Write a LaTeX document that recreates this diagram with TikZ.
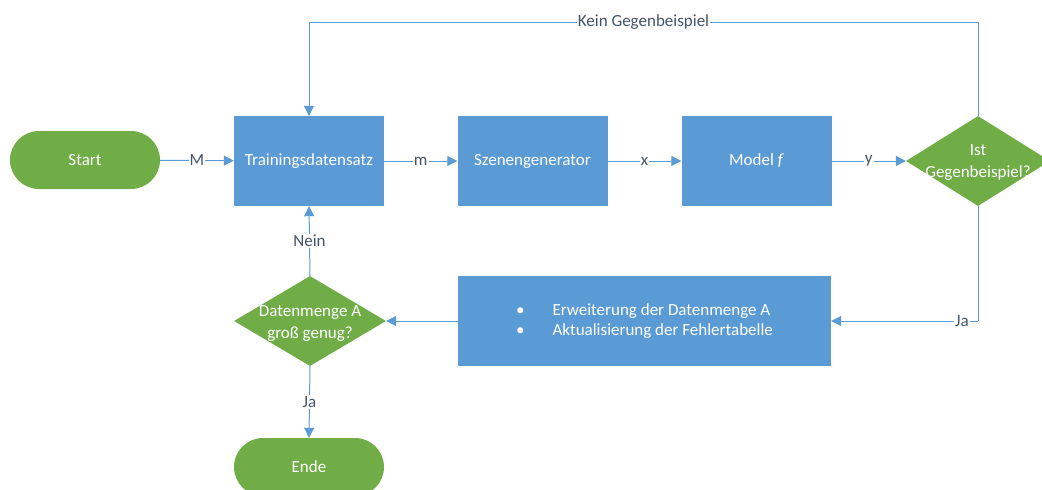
\documentclass[tikz,border=0pt]{standalone}
\usepackage{fontspec}
\setmainfont{Carlito}
\usetikzlibrary{shapes.geometric,arrows.meta}
\definecolor{boxblue}{HTML}{5B9BD5}
\definecolor{flowgreen}{HTML}{70AD47}
\definecolor{linkblue}{HTML}{5B9BD5}
\definecolor{labelgray}{HTML}{44546A}
\begin{document}
\begin{tikzpicture}[x=1pt,y=-1pt,
  font=\fontsize{17}{20}\selectfont,
  process/.style={rectangle,fill=boxblue,text=white,minimum width=150pt,
    minimum height=90pt,inner sep=0pt},
  terminal/.style={rectangle,rounded corners=29pt,fill=flowgreen,text=white,
    minimum width=150pt,minimum height=58pt,inner sep=0pt},
  decision/.style={diamond,fill=flowgreen,inner sep=0pt,minimum width=#1,
    minimum height=90pt},
  dtext/.style={text=white,align=center,inner sep=0pt,
    font=\fontsize{17}{22}\selectfont},
  flow/.style={draw=linkblue,line width=1pt,
    -{Triangle[length=10pt,width=10pt]}},
  link/.style={draw=linkblue,line width=1pt},
  lbl/.style={fill=white,text=labelgray,inner sep=1pt}]
\useasboundingbox (0,0) rectangle (1042,490);
\clip (0,0) rectangle (1042,490);
\fill[white] (0,0) rectangle (1042,490);

% upper row
\node[terminal] (start) at (85,160) {Start};
\node[process] (train) at (309,161) {Trainingsdatensatz};
\node[process] (gen) at (532.5,161) {Szenengenerator};
\node[process] (model) at (756.5,161) {Model \textit{f}};
\node[decision=144pt] (gb) at (978,161) {};
\node[dtext] (gbtext) at (978,163) {Ist\\Gegenbeispiel?};

% lower row
\node[process,minimum width=373pt] (update) at (644.5,321)
  {\begin{tabular}{@{}l@{\hspace{28pt}}l@{}}
     \textbullet & Erweiterung der Datenmenge A\\
     \textbullet & Aktualisierung der Fehlertabelle
   \end{tabular}};
\node[decision=152pt] (enough) at (310,321) {};
\node[dtext] (enoughtext) at (310,324) {Datenmenge A\\groß genug?};
\node[terminal] (ende) at (309,467) {Ende};

% main chain
\draw[flow] (start) -- node[lbl] {M} (train);
\draw[flow] (train) -- node[lbl] {m} (gen);
\draw[flow] (gen) -- node[lbl] {x} (model);
\draw[flow] (model) -- node[lbl] {y} (gb.west);

% feedback when no counterexample is found
\coordinate (topR) at (978,22);
\coordinate (topL) at (309,22);
\draw[link] (gb.north) -- (topR) -- node[lbl] {Kein Gegenbeispiel} (topL);
\draw[flow] (topL) -- (train.north);

% counterexample found
\coordinate (jaR) at (gb.south |- update.east);
\draw[link] (gb.south) -- (jaR);
\draw[flow] (jaR) -- node[lbl,pos=0.11] {Ja} (update.east);
\draw[flow] (update.west) -- (enough.east);

% size check
\draw[flow] (enough.north) -- node[lbl] {Nein} (train.south);
\draw[flow] (enough.south) -- node[lbl] {Ja} (ende.north);
\end{tikzpicture}
\end{document}
